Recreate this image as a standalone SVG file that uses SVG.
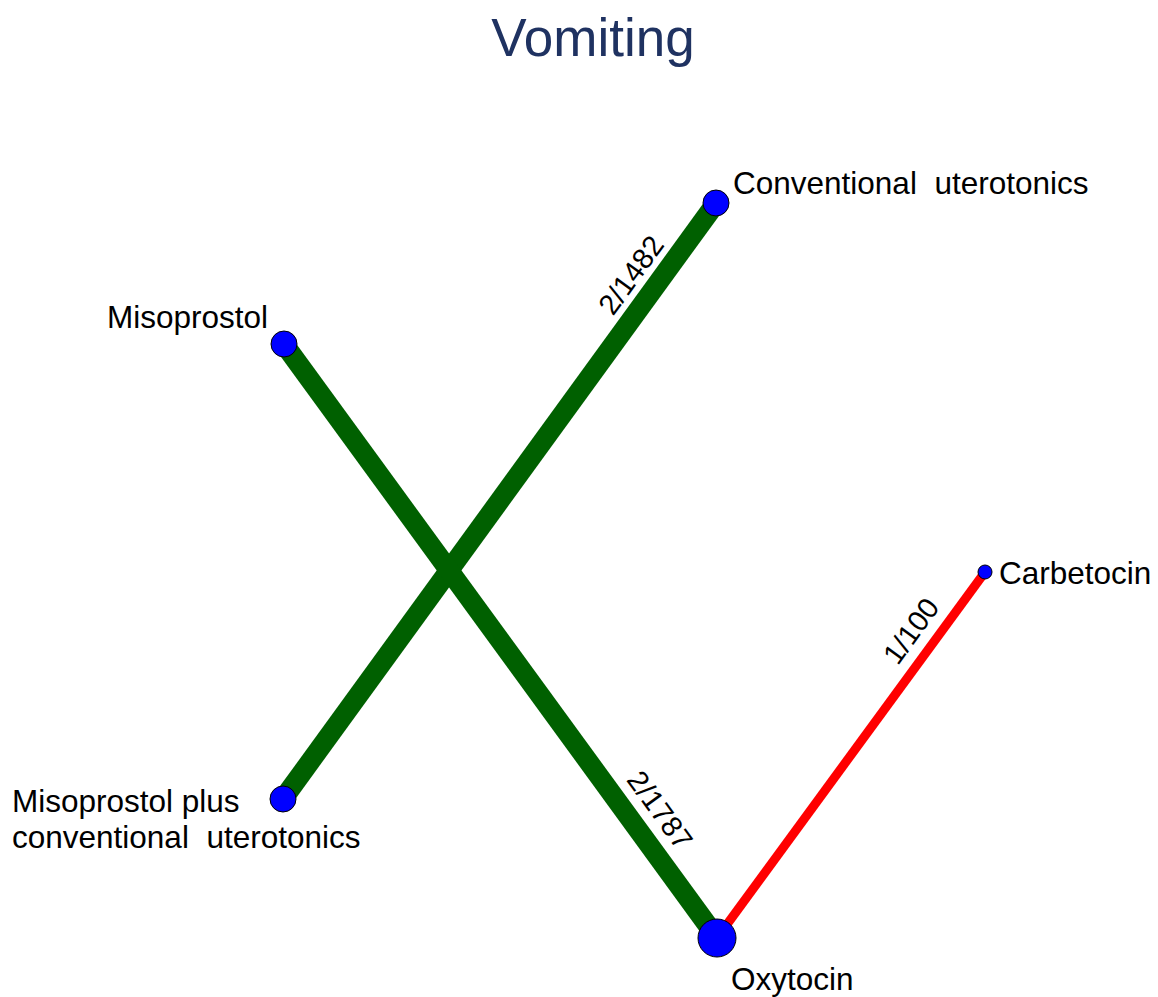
<svg xmlns="http://www.w3.org/2000/svg" width="1158" height="997" viewBox="0 0 1158 997">
  <style>
    .title { font-family: "Liberation Sans", Arial, sans-serif; font-size: 53px; fill: #1f3261; }
    .lbl { font-family: "Liberation Sans", Arial, sans-serif; font-size: 31.5px; fill: #000; }
    .elbl { font-family: "Liberation Sans", Arial, sans-serif; font-size: 29px; fill: #000; text-anchor: middle; }
    .node { fill: #0000ff; stroke: #000; stroke-width: 1; }
    .thick { stroke: #006000; stroke-width: 20; stroke-linecap: butt; }
    .thin { stroke: #ff0000; stroke-width: 9; }
  </style>
  <rect width="1158" height="997" fill="#ffffff"/>
  <text class="title" x="593" y="56" text-anchor="middle">Vomiting</text>

  <g id="connectors">
    <line class="thick" x1="716" y1="203" x2="283" y2="799"/>
    <line class="thick" x1="284" y1="344" x2="717" y2="938"/>
    <line class="thin" x1="717" y1="938" x2="985" y2="572"/>
    <text class="elbl" transform="translate(631,275) rotate(-54)" y="10">2/1482</text>
    <text class="elbl" transform="translate(660,810) rotate(54)" y="10">2/1787</text>
    <text class="elbl" transform="translate(911,631) rotate(-54)" y="10">1/100</text>
  </g>

  <g id="node-conventional">
    <circle class="node" cx="716" cy="203" r="13"/>
    <text class="lbl" x="733" y="194" xml:space="preserve">Conventional  uterotonics</text>
  </g>
  <g id="node-misoprostol">
    <circle class="node" cx="284" cy="344" r="13"/>
    <text class="lbl" x="107" y="328">Misoprostol</text>
  </g>
  <g id="node-misoprostol-plus">
    <circle class="node" cx="283" cy="799" r="13"/>
    <text class="lbl" x="12" y="812">Misoprostol plus</text>
    <text class="lbl" x="12" y="848" xml:space="preserve">conventional  uterotonics</text>
  </g>
  <g id="node-oxytocin">
    <circle class="node" cx="717" cy="938" r="19"/>
    <text class="lbl" x="731" y="990">Oxytocin</text>
  </g>
  <g id="node-carbetocin">
    <circle class="node" cx="985" cy="572" r="7"/>
    <text class="lbl" x="999" y="584">Carbetocin</text>
  </g>
</svg>
